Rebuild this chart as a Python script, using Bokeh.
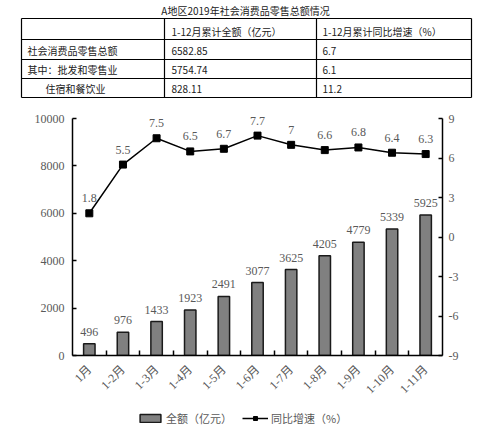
from math import pi

from bokeh.plotting import figure
from bokeh.models import Range1d, LinearAxis, FixedTicker, Legend, LegendItem
from bokeh.core.properties import value
from bokeh.embed import file_html
from bokeh.resources import INLINE

# ---- data ----
title = "A地区2019年社会消费品零售总额情况"
header = ["1-12月累计全额（亿元）", "1-12月累计同比增速（%）"]
row_names = ["社会消费品零售总额", "其中：批发和零售业", "住宿和餐饮业"]
row_amount = ["6582.85", "5754.74", "828.11"]
row_growth = ["6.7", "6.1", "11.2"]

months = ["1月", "1-2月", "1-3月", "1-4月", "1-5月", "1-6月",
          "1-7月", "1-8月", "1-9月", "1-10月", "1-11月"]
amount = [496, 976, 1433, 1923, 2491, 3077, 3625, 4205, 4779, 5339, 5925]
growth = [1.8, 5.5, 7.5, 6.5, 6.7, 7.7, 7, 6.6, 6.8, 6.4, 6.3]
amount_ticks = [0, 2000, 4000, 6000, 8000, 10000]
growth_ticks = [-9, -6, -3, 0, 3, 6, 9]
series_names = ["全额（亿元）", "同比增速（%）"]

SERIF = "'Liberation Serif', 'Noto Sans CJK SC'"
CJK = "'Noto Sans CJK SC'"
GREY = "#595959"
INK = "#222222"
BAR = dict(fill_color="#808080", line_color="#1a1a1a", line_width=1.5)
LINE = dict(line_color="black", line_width=1.5)
DOT = dict(marker="square", size=7, fill_color="black", line_color="black")

# ---- table on top (pixel coordinates) ----
t = figure(width=491, height=100, x_range=(0, 491), y_range=(100, 0),
           x_axis_type=None, y_axis_type=None, toolbar_location=None,
           output_backend="svg", min_border=0, outline_line_color=None)
t.grid.visible = False

col_x = [21, 164, 316, 471]
row_y = [18, 39, 59, 78, 97]
t.segment(x0=[col_x[0]] * len(row_y), y0=row_y, x1=[col_x[-1]] * len(row_y), y1=row_y,
          line_color="black", line_width=1.2)
t.segment(x0=col_x, y0=[row_y[0]] * len(col_x), x1=col_x, y1=[row_y[-1]] * len(col_x),
          line_color="black", line_width=1.2)

t.text(x=[245], y=[10], text=[title], text_align="center", text_baseline="middle",
       text_font=value(CJK), text_font_size="10px", text_color=INK)

text_y = [31, 50, 69, 88]
t.text(x=[171, 322], y=[text_y[0]] * 2, text=header, text_baseline="middle",
       text_font=value(CJK), text_font_size="10px", text_color=INK)
indent = [0, 0, 18]
t.text(x=[27 + d for d in indent], y=text_y[1:], text=row_names, text_baseline="middle",
       text_font=value(CJK), text_font_size="10px", text_color=INK)
t.text(x=[171] * 3, y=text_y[1:], text=row_amount, text_baseline="middle",
       text_font=value(CJK), text_font_size="10px", text_color=INK)
t.text(x=[322] * 3, y=text_y[1:], text=row_growth, text_baseline="middle",
       text_font=value(CJK), text_font_size="10px", text_color=INK)

# ---- chart ----
xs = list(range(1, len(months) + 1))

# axes span 237px; the frame reaches 10px higher so the top labels are not clipped
axis_px, head_px = 237, 10
amt_lo, amt_hi = amount_ticks[0], amount_ticks[-1]
gr_lo, gr_hi = growth_ticks[0], growth_ticks[-1]
amt_top = amt_hi + (amt_hi - amt_lo) * head_px / axis_px
gr_top = gr_hi + (gr_hi - gr_lo) * head_px / axis_px

p = figure(width=491, height=305, x_range=Range1d(0.5, len(months) + 0.5),
           y_range=Range1d(amt_lo, amt_top), toolbar_location=None, output_backend="svg",
           min_border_left=72, min_border_right=49, min_border_top=18 - head_px,
           min_border_bottom=50, outline_line_color=None)
p.extra_y_ranges = {"rate": Range1d(gr_lo, gr_top)}
p.grid.visible = False

p.vbar(x=xs, top=amount, width=0.34, **BAR)
p.line(xs, growth, y_range_name="rate", **LINE)
p.scatter(xs, growth, y_range_name="rate", **DOT)

p.text(x=xs, y=amount, text=[str(a) for a in amount], text_align="center",
       text_baseline="bottom", y_offset=-8, text_font=value(SERIF),
       text_font_size="12px", text_color=GREY)
p.text(x=xs, y=growth, text=[f"{g:g}" for g in growth], y_range_name="rate",
       text_align="center", text_baseline="bottom", y_offset=-11,
       text_font=value(SERIF), text_font_size="12px", text_color=GREY)

# x axis: labels at bar centres, short inner ticks between categories
xa = p.xaxis[0]
xa.ticker = FixedTicker(ticks=xs, minor_ticks=[x + 0.5 for x in xs[:-1]])
xa.major_label_overrides = {x: m for x, m in zip(xs, months)}
xa.major_label_orientation = pi / 4
xa.major_tick_line_color = None
xa.minor_tick_in = 5
xa.minor_tick_out = 0
xa.minor_tick_line_color = "black"
xa.minor_tick_line_width = 1.5
xa.axis_line_color = "black"
xa.axis_line_width = 1.5
xa.major_label_standoff = 6
xa.major_label_text_font = SERIF
xa.major_label_text_font_size = "12px"
xa.major_label_text_color = GREY

ya = p.yaxis[0]
ya.ticker = FixedTicker(ticks=amount_ticks)
ya.bounds = (amt_lo, amt_hi)
ra = LinearAxis(y_range_name="rate", ticker=FixedTicker(ticks=growth_ticks),
                bounds=(gr_lo, gr_hi))
ra.major_label_overrides = {v: str(v) for v in growth_ticks}
p.add_layout(ra, "right")
for ax, standoff in ((ya, 8), (ra, 6)):
    ax.major_tick_in = 4
    ax.major_tick_out = 0
    ax.minor_tick_line_color = None
    ax.major_tick_line_color = "black"
    ax.major_tick_line_width = 1.5
    ax.axis_line_color = "black"
    ax.axis_line_width = 1.5
    ax.major_label_standoff = standoff
    ax.major_label_text_font = SERIF
    ax.major_label_text_font_size = "12px"
    ax.major_label_text_color = GREY

# ---- legend strip at the bottom (same series as hidden keys) ----
g = figure(width=491, height=30, x_range=(-100, -99), y_range=(-100, -99),
           x_axis_type=None, y_axis_type=None, toolbar_location=None,
           output_backend="svg", min_border=0, outline_line_color=None)
g.grid.visible = False
key_bar = g.vbar(x=xs, top=amount, width=0.34, **BAR)
key_line = g.line(xs, growth, **LINE)
key_dot = g.scatter(xs, growth, **DOT)
for r in (key_bar, key_line, key_dot):
    r.visible = False
legend = Legend(items=[LegendItem(label=series_names[0], renderers=[key_bar]),
                       LegendItem(label=series_names[1], renderers=[key_line, key_dot])],
                location=(137, 9), orientation="horizontal",
                border_line_color=None, background_fill_alpha=0,
                padding=0, margin=0, spacing=10, glyph_width=26, glyph_height=10,
                label_height=12, label_standoff=3, label_text_font=CJK,
                label_text_font_size="11px", label_text_color=GREY)
g.add_layout(legend, "center")

open("out.html", "w").write(file_html([t, p, g], INLINE))
